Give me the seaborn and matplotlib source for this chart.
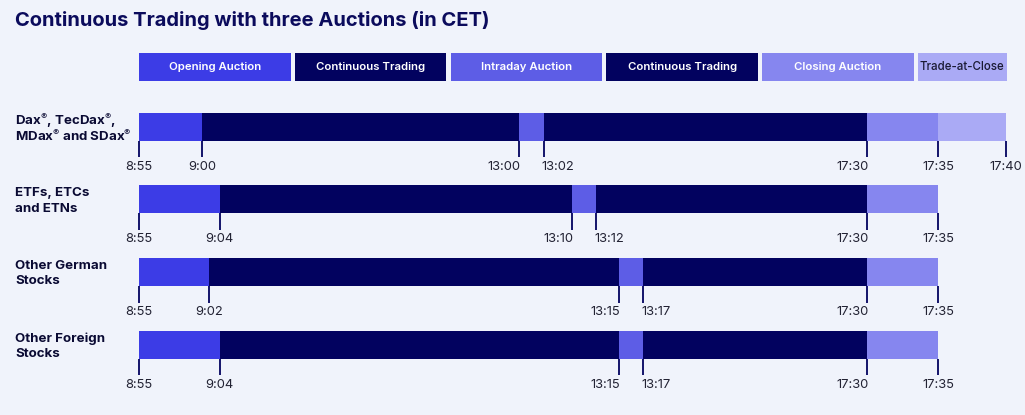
import numpy as np
import pandas as pd
import matplotlib
matplotlib.use("Agg")
import matplotlib.pyplot as plt
import matplotlib.transforms as mtransforms
from matplotlib.patches import Rectangle
import seaborn as sns

# ---- data -------------------------------------------------------------
rows = ["Dax$^{®}$, TecDax$^{®}$,\nMDax$^{®}$ and SDax$^{®}$",
        "ETFs, ETCs\nand ETNs",
        "Other German\nStocks",
        "Other Foreign\nStocks"]
open_start = ["8:55", "8:55", "8:55", "8:55"]
open_end = ["9:00", "9:04", "9:02", "9:04"]
intraday_start = ["13:00", "13:10", "13:15", "13:15"]
intraday_end = ["13:02", "13:12", "13:17", "13:17"]
closing_start = ["17:30", "17:30", "17:30", "17:30"]
closing_end = ["17:35", "17:35", "17:35", "17:35"]
tac_end = ["17:40", None, None, None]

phases = ["Opening Auction", "Continuous Trading", "Intraday Auction",
          "Continuous Trading", "Closing Auction", "Trade-at-Close"]

# schematic (non linear) time axis: time -> relative position
axis_times = ["8:55", "9:00", "9:02", "9:04", "13:00", "13:02", "13:10",
              "13:12", "13:15", "13:17", "17:30", "17:35", "17:40"]
axis_pos = [139.3, 202, 209, 219.5, 518.7, 543.5, 571.7, 596, 618.7,
            643.3, 867.3, 938, 1005.9]

# ---- style ------------------------------------------------------------
BG = "#f0f3fb"
NAVY = "#02025f"
colors = {
    "Opening Auction": "#3c3ce6",
    "Continuous Trading": "#02025f",
    "Intraday Auction": "#5d5de6",
    "Closing Auction": "#8686ef",
    "Trade-at-Close": "#aaaaf5",
}
pal = sns.color_palette([colors[p] for p in phases])

sns.set_theme(style="white")
plt.rcParams["font.family"] = ["Inter", "DejaVu Sans"]
plt.rcParams["mathtext.fontset"] = "custom"
plt.rcParams["mathtext.rm"] = "Inter"
plt.rcParams["mathtext.bf"] = "Inter:bold"


def to_min(s):
    h, m = s.split(":")
    return int(h) * 60 + int(m)


knot_t = np.array([to_min(t) for t in axis_times], dtype=float)
knot_u = np.array(axis_pos, dtype=float)


def fwd(x):
    return np.interp(x, knot_t, knot_u)


def inv(u):
    return np.interp(u, knot_u, knot_t)


# segments table
segs = []
for i in range(len(rows)):
    bounds = [open_start[i], open_end[i], intraday_start[i], intraday_end[i],
              closing_start[i], closing_end[i]]
    if tac_end[i] is not None:
        bounds.append(tac_end[i])
    for k in range(len(bounds) - 1):
        segs.append({"row": i, "phase": phases[k], "color": pal[k],
                     "start": to_min(bounds[k]), "end": to_min(bounds[k + 1])})
df = pd.DataFrame(segs)

W, H = 1025, 415
fig = plt.figure(figsize=(W / 100, H / 100), dpi=100, facecolor=BG)
left = knot_u[0] / W
ax = fig.add_axes([left, 0, (knot_u[-1] - knot_u[0]) / W, 1])
ax.set_facecolor(BG)
ax.set_xscale("function", functions=(fwd, inv))
ax.set_xlim(knot_t[0], knot_t[-1])

# row 0 at pixel 126.7, 72.67 px between rows
row_px = 72.67
top0 = 126.7
ax.set_ylim((H - top0) / row_px, -top0 / row_px)
bar_h = 28 / row_px

ax.barh(df["row"], df["end"] - df["start"], left=df["start"],
        height=bar_h, color=df["color"], linewidth=0)

# ticks under each bar
tick_len = 16.5 / row_px
lab_off = 26 / row_px
for i in range(len(rows)):
    marks = [(open_start[i], "center"), (open_end[i], "center"),
             (intraday_start[i], "right"), (intraday_end[i], "left"),
             (closing_start[i], "right"), (closing_end[i], "center")]
    if tac_end[i] is not None:
        marks.append((tac_end[i], "center"))
    y0 = i + bar_h / 2
    for t, ha in marks:
        x = to_min(t)
        ax.vlines(x, y0, y0 + tick_len, color=NAVY, lw=1.3, clip_on=False)
        dx = {"center": 0, "right": 1.2, "left": -1.2}[ha]
        ax.annotate(t, (x, y0 + lab_off), xytext=(dx, 0),
                    textcoords="offset points", ha=ha, va="center",
                    fontsize=9.3, color="#222233", annotation_clip=False)

# row labels, one text per line to keep even spacing
tr = mtransforms.blended_transform_factory(fig.transFigure, ax.transData)
line_gap = 15.8 / row_px
for i, lab in enumerate(rows):
    lines = lab.split("\n")
    for j, line in enumerate(lines):
        yy = i + (j - (len(lines) - 1) / 2) * line_gap
        ax.text(15 / W, yy, line, transform=tr, ha="left", va="center_baseline",
                fontsize=9.6, fontweight="bold", color="#0a0a33", clip_on=False)

ax.axis("off")

# legend boxes
box_w = 151.5
step = 155.8
for k, p in enumerate(phases):
    last = k == len(phases) - 1
    x0 = 139 + k * step
    w = 88.5 if last else box_w
    fig.patches.append(Rectangle((x0 / W, 1 - 81 / H), w / W, 28.3 / H,
                                 transform=fig.transFigure,
                                 color=pal[k], lw=0))
    fig.text((x0 + w / 2) / W, 1 - 67 / H, p, ha="center", va="center",
             fontsize=8.3 if last else 8.2,
             fontweight="medium" if last else "semibold",
             color="#1a1a33" if last else "white")

fig.text(15 / W, 1 - 21 / H, "Continuous Trading with three Auctions (in CET)",
         ha="left", va="center", fontsize=14.5, fontweight="bold", color="#0b0b5c")

fig.savefig("out.png", dpi=100, facecolor=BG)
